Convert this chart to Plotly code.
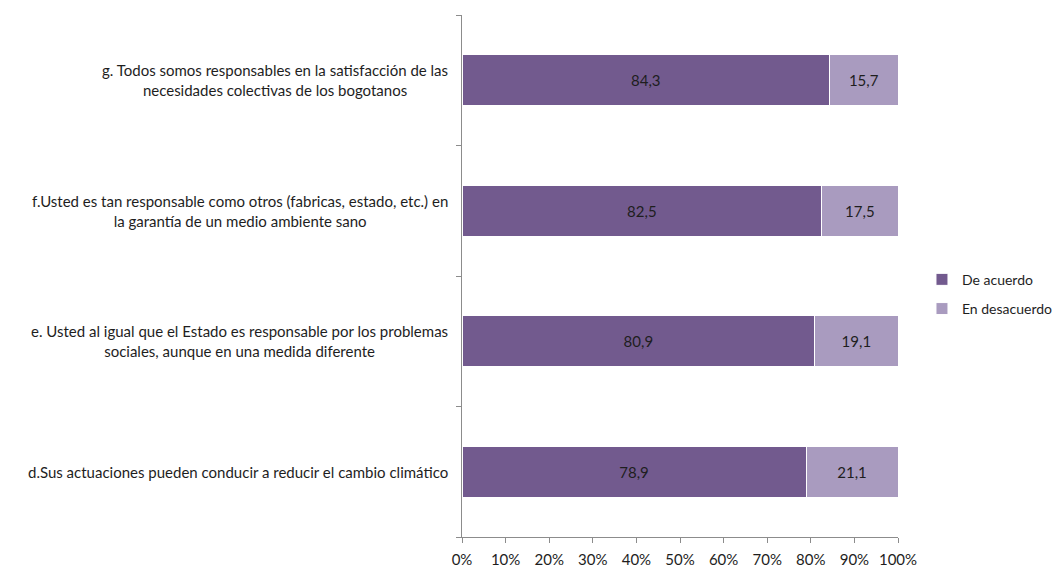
import plotly.graph_objects as go

categories = [
    "d.Sus actuaciones pueden conducir a reducir el cambio climático",
    "e. Usted al igual que el Estado es responsable por los problemas<br>sociales, aunque en una medida diferente",
    "f.Usted es tan responsable como otros (fabricas, estado, etc.) en<br>la garantía de un medio ambiente sano",
    "g. Todos somos responsables en la satisfacción de las<br>necesidades colectivas de los bogotanos",
]
keys = ["d", "e", "f", "g"]
de_acuerdo = [78.9, 80.9, 82.5, 84.3]
en_desacuerdo = [21.1, 19.1, 17.5, 15.7]
x_ticks = [0, 10, 20, 30, 40, 50, 60, 70, 80, 90, 100]
x_tick_text = ["0%", "10%", "20%", "30%", "40%", "50%", "60%", "70%", "80%", "90%", "100%"]

FONT = "Lato"
SIZE = 15
DARK = "#725a8e"
LIGHT = "#a99bbf"
TEXT = "#1e1e1e"

fig = go.Figure()
fig.add_trace(go.Bar(
    y=keys, x=de_acuerdo, name="De acuerdo", orientation="h", legendgroup="a",
    marker=dict(color=DARK, line=dict(color="white", width=1)),
    texttemplate="%{x:.1f}", textposition="inside", insidetextanchor="middle",
    textfont=dict(color=TEXT, size=SIZE, family=FONT),
))
fig.add_trace(go.Bar(
    y=keys, x=en_desacuerdo, name="En desacuerdo", orientation="h", legendgroup="b",
    marker=dict(color=LIGHT, line=dict(color="white", width=1)),
    texttemplate="%{x:.1f}", textposition="inside", insidetextanchor="middle",
    textfont=dict(color=TEXT, size=SIZE, family=FONT),
))

# Category labels: right-anchored blocks with centred lines
for k, label in zip(keys, categories):
    fig.add_annotation(
        x=0, xref="paper", y=k, yref="y", text=label,
        xanchor="right", align="center", xshift=-12, showarrow=False,
        font=dict(family=FONT, size=SIZE, color=TEXT),
    )

fig.update_layout(
    barmode="stack",
    bargap=0.61,
    separators=",.",
    width=1056, height=569,
    margin=dict(l=462, r=158, t=15, b=32, autoexpand=False),
    paper_bgcolor="white", plot_bgcolor="white",
    font=dict(family=FONT, size=SIZE, color=TEXT),
    legend=dict(
        x=1.055, xanchor="left", y=0.465, yanchor="middle",
        traceorder="grouped",
        font=dict(family=FONT, size=14, color=TEXT),
        itemwidth=30, tracegroupgap=8,
    ),
    xaxis=dict(
        range=[0, 100], tickvals=x_ticks, ticktext=x_tick_text,
        showgrid=False, zeroline=False,
        showline=True, linecolor="#8c8c8c", linewidth=1,
        ticks="outside", ticklen=5, tickcolor="#8c8c8c",
        ticklabelstandoff=4,
        tickfont=dict(family=FONT, size=SIZE, color=TEXT),
    ),
    yaxis=dict(
        categoryorder="array", categoryarray=keys,
        showticklabels=False, showgrid=False, zeroline=False,
        showline=True, linecolor="#8c8c8c", linewidth=1,
        ticks="outside", ticklen=5, tickcolor="#8c8c8c",
        tickson="boundaries",
    ),
)

fig.write_html("out.html")
